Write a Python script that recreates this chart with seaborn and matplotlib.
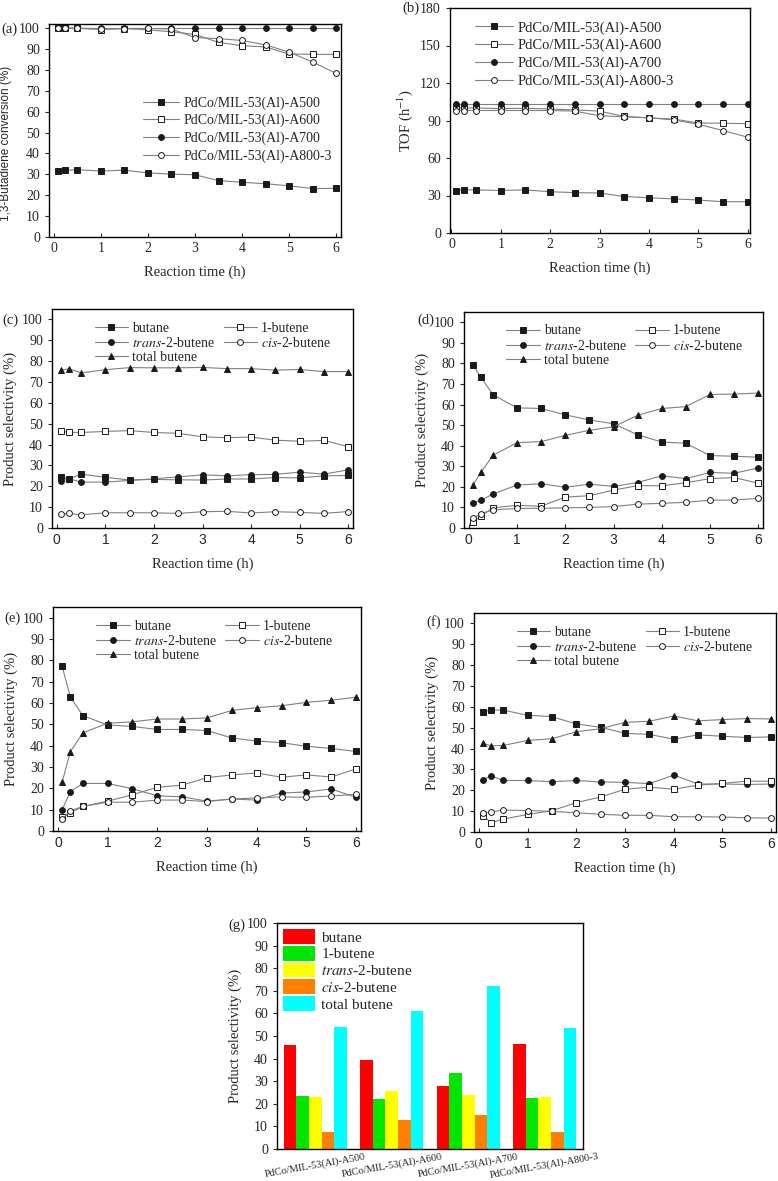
import matplotlib.pyplot as plt
import numpy as np
import pandas as pd
import seaborn as sns

# reaction time points (h)
hours = [0.083, 0.25, 0.5, 1, 1.5, 2, 2.5, 3, 3.5, 4, 4.5, 5, 5.5, 6]

catalysts = ['PdCo/MIL-53(Al)-A500', 'PdCo/MIL-53(Al)-A600',
             'PdCo/MIL-53(Al)-A700', 'PdCo/MIL-53(Al)-A800-3']

# (a) 1,3-butadiene conversion (%)
conv_a500 = [31.8, 32.0, 32.2, 31.6, 32.0, 30.7, 30.1, 29.8, 27.0, 26.2, 25.5, 24.5, 23.2, 23.3]
conv_a600 = [100, 100, 100, 99.3, 99.8, 99.2, 98.3, 97.0, 93.2, 91.6, 91.0, 87.6, 87.5, 87.4]
conv_a700 = [100, 100, 100, 100, 100, 100, 100, 100, 100, 100, 100, 100, 100, 100]
conv_a800 = [100, 100, 100, 99.8, 99.8, 99.9, 99.6, 95.5, 95.0, 94.1, 92.0, 88.5, 83.8, 78.3]

# (b) TOF (h-1)
tof_a500 = [34.0, 34.5, 34.5, 34.0, 34.5, 33.0, 32.3, 32.0, 29.2, 28.2, 27.3, 26.4, 25.0, 25.0]
tof_a600 = [100, 100, 100, 99.5, 99.8, 99.2, 98.5, 97.5, 93.3, 92.0, 91.2, 88.0, 87.8, 87.5]
tof_a700 = [103.5] * 14
tof_a800 = [98, 98, 98, 98, 98, 98, 97.5, 93.8, 93.0, 92.2, 90.5, 87.0, 82.0, 76.7]

# (c)-(f) product selectivity (%): butane, 1-butene, trans, cis, total butene
sel_c = {
    'butane':  [24.5, 23.5, 25.8, 24.3, 23.0, 23.3, 23.1, 23.0, 23.5, 23.5, 24.2, 24.0, 25.0, 25.2],
    '1-butene': [46.3, 45.9, 45.8, 46.3, 46.7, 45.8, 45.4, 43.7, 43.3, 43.6, 42.1, 41.6, 42.0, 39.0],
    'trans':   [22.3, 23.6, 22.0, 22.0, 22.8, 23.6, 24.5, 25.5, 25.0, 25.6, 25.7, 26.8, 25.8, 27.9],
    'cis':     [6.5, 7.0, 6.3, 7.3, 7.3, 7.3, 7.0, 7.8, 8.0, 7.2, 7.8, 7.5, 7.0, 7.9],
    'total':   [75.7, 76.3, 74.4, 75.9, 76.9, 76.8, 76.8, 77.0, 76.4, 76.4, 75.7, 76.0, 75.0, 75.0],
}
sel_d = {
    'butane':  [79.3, 73.3, 64.8, 58.4, 58.1, 55.0, 52.5, 50.7, 45.3, 41.8, 41.2, 35.2, 34.9, 34.4],
    '1-butene': [3.0, 5.8, 9.8, 11.0, 10.6, 15.0, 15.7, 18.4, 20.6, 20.5, 22.0, 24.0, 24.5, 21.8],
    'trans':   [12.3, 13.5, 16.5, 20.9, 21.5, 19.8, 21.3, 20.2, 22.1, 25.4, 24.0, 27.0, 26.6, 29.2],
    'cis':     [4.7, 7.0, 8.8, 9.5, 9.6, 9.8, 10.0, 10.4, 11.6, 12.0, 12.5, 13.5, 13.6, 14.4],
    'total':   [20.8, 27.0, 35.3, 41.5, 42.0, 45.0, 47.5, 49.2, 54.8, 58.1, 59.0, 64.9, 65.1, 65.6],
}
sel_e = {
    'butane':  [77.2, 62.8, 54.1, 49.7, 49.0, 47.6, 47.6, 47.1, 43.6, 42.2, 41.4, 39.7, 38.7, 37.3],
    '1-butene': [6.5, 8.5, 11.5, 14.0, 17.0, 20.5, 21.5, 25.0, 26.3, 27.2, 25.2, 26.3, 25.3, 29.1],
    'trans':   [10.0, 18.5, 22.3, 22.3, 19.8, 16.5, 16.0, 14.0, 15.0, 14.5, 17.8, 18.3, 19.7, 15.8],
    'cis':     [5.5, 9.5, 11.5, 13.5, 13.5, 14.5, 14.5, 13.8, 15.0, 15.5, 16.0, 15.8, 16.4, 17.2],
    'total':   [22.8, 37.2, 46.0, 50.5, 51.2, 52.5, 52.5, 53.0, 56.5, 57.8, 58.7, 60.3, 61.3, 62.7],
}
sel_f = {
    'butane':  [57.5, 58.6, 58.4, 56.0, 55.3, 51.8, 50.2, 47.3, 46.8, 44.5, 46.6, 45.9, 45.3, 45.6],
    '1-butene': [7.9, 4.4, 6.2, 8.4, 10.2, 14.1, 16.8, 20.5, 21.5, 20.5, 22.5, 23.3, 24.4, 24.3],
    'trans':   [25.1, 26.9, 24.7, 24.7, 24.1, 24.7, 24.0, 23.8, 23.2, 27.3, 23.0, 23.0, 22.8, 23.0],
    'cis':     [9.2, 9.7, 10.5, 10.3, 9.9, 9.2, 8.5, 8.0, 8.0, 7.3, 7.3, 7.2, 6.8, 6.7],
    'total':   [42.5, 41.3, 41.5, 43.9, 44.7, 48.1, 49.5, 52.6, 53.1, 55.6, 53.3, 53.9, 54.4, 54.2],
}

# (g) average selectivity per catalyst
bar_butane = [46.2, 39.4, 27.9, 46.6]
bar_1butene = [23.5, 22.3, 33.8, 22.6]
bar_trans = [23.1, 25.8, 23.7, 23.2]
bar_cis = [7.5, 12.8, 15.1, 7.4]
bar_total = [54.0, 60.9, 72.2, 53.5]

product_labels = {
    'butane': 'butane',
    '1-butene': '1-butene',
    'trans': r'$\it{trans}$-2-butene',
    'cis': r'$\it{cis}$-2-butene',
    'total': 'total butene',
}
product_markers = {'butane': ('s', True), '1-butene': ('s', False),
                   'trans': ('o', True), 'cis': ('o', False), 'total': ('^', True)}

sns.set_theme(style='ticks')
plt.rcParams['font.family'] = ['Liberation Serif', 'DejaVu Serif']
plt.rcParams['mathtext.fontset'] = 'stix'
plt.rcParams['xtick.direction'] = 'in'
plt.rcParams['ytick.direction'] = 'out'
plt.rcParams['axes.linewidth'] = 1.0
plt.rcParams['axes.edgecolor'] = 'black'

W, H = 778, 1181
fig = plt.figure(figsize=(W / 100, H / 100), dpi=100)


def box(x0, y0, x1, y1):
    return [x0 / W, 1 - y1 / H, (x1 - x0) / W, (y1 - y0) / H]


def series(ax, y, marker, filled, label):
    sns.lineplot(x=hours, y=y, ax=ax, color='0.5', lw=0.8, marker=marker,
                 markersize=4.2, markerfacecolor='k' if filled else 'w',
                 markeredgecolor='k', markeredgewidth=0.7, label=label)


def style_time_axis(ax, sans_x):
    ax.set_xlim(-0.1, 6.1)
    ax.set_xticks(range(7))
    ax.set_xlabel('Reaction time (h)', fontsize=10.5, labelpad=8)
    ax.tick_params(axis='both', labelsize=10, length=3, width=0.8)
    if sans_x:
        for t in ax.get_xticklabels():
            t.set_fontfamily('Liberation Sans')
    for s in ax.spines.values():
        s.set_visible(True)


# (a)
ax = fig.add_axes(box(49, 24, 341, 237))
for y, m, f, lab in zip([conv_a500, conv_a600, conv_a700, conv_a800],
                        ['s', 's', 'o', 'o'], [True, False, True, False], catalysts):
    series(ax, y, m, f, lab)
style_time_axis(ax, False)
ax.set_ylim(0, 102)
ax.set_yticks(range(0, 101, 10))
ax.set_ylabel('1,3-Butadiene conversion (%)', fontsize=8.5, family='Liberation Sans')
ax.yaxis.set_label_coords(-0.125, 0.44)
ax.legend(loc='upper left', bbox_to_anchor=(0.28, 0.72), frameon=False, fontsize=10,
          handlelength=2.6, labelspacing=0.3, handletextpad=0.3)
fig.text(1 / W, 1 - 29 / H, '(a)', fontsize=10.5, va='center')

# (b)
ax = fig.add_axes(box(450, 8, 750, 233))
for y, m, f, lab in zip([tof_a500, tof_a600, tof_a700, tof_a800],
                        ['s', 's', 'o', 'o'], [True, False, True, False], catalysts):
    series(ax, y, m, f, lab)
style_time_axis(ax, False)
ax.set_xlim(-0.03, 6.05)
ax.set_ylim(0, 180)
ax.set_yticks(range(0, 181, 30))
ax.set_ylabel('TOF (h$^{-1}$)', fontsize=10.5)
ax.legend(loc='upper left', bbox_to_anchor=(0.04, 1.0), frameon=False, fontsize=10.5,
          handlelength=2.6, labelspacing=0.3, handletextpad=0.3)
fig.text(402 / W, 1 - 8 / H, '(b)', fontsize=10.5, va='center')

# (c)-(f)
panels = [
    ('(c)', sel_c, (52, 309, 353, 528), (2, 320)),
    ('(d)', sel_d, (464, 312, 763, 528), (417, 320)),
    ('(e)', sel_e, (53, 607, 361, 831), (4, 618)),
    ('(f)', sel_f, (474, 613, 776, 832), (426, 622)),
]
for tag, sel, rect, tag_pos in panels:
    ax = fig.add_axes(box(*rect))
    for key in ['butane', 'trans', 'total', '1-butene', 'cis']:
        m, f = product_markers[key]
        series(ax, sel[key], m, f, product_labels[key])
    style_time_axis(ax, True)
    ax.set_ylim(0, 105)
    ax.set_yticks(range(0, 101, 10))
    ax.set_ylabel('Product selectivity (%)', fontsize=10.5)
    ax.legend(loc='upper left', bbox_to_anchor=(0.1, 1.0), ncol=2, frameon=False,
              fontsize=10, handlelength=2.4, labelspacing=0.1, handletextpad=0.3,
              columnspacing=0.6)
    fig.text(tag_pos[0] / W, 1 - tag_pos[1] / H, tag, fontsize=10.5, va='center')

# (g)
bar_df = pd.DataFrame({
    'catalyst': catalysts * 5,
    'product': (['butane'] * 4 + ['1-butene'] * 4 + [product_labels['trans']] * 4
                + [product_labels['cis']] * 4 + ['total butene'] * 4),
    'value': bar_butane + bar_1butene + bar_trans + bar_cis + bar_total,
})
ax = fig.add_axes(box(277, 923, 583, 1149))
sns.barplot(data=bar_df, x='catalyst', y='value', hue='product',
            palette=['#ff0000', '#00e600', '#ffff00', '#ff8000', '#00ffff'],
            saturation=1, width=0.82, linewidth=0, ax=ax)
ax.set_ylim(0, 100)
ax.set_yticks(range(0, 101, 10))
ax.set_xlim(-0.5, 3.5)
ax.set_xlabel('')
ax.set_ylabel('Product selectivity (%)', fontsize=10.5)
ax.tick_params(axis='y', labelsize=10, length=3, width=0.8)
ax.tick_params(axis='x', labelsize=7.5, length=0, pad=2)
for t in ax.get_xticklabels():
    t.set_rotation(10)
for s in ax.spines.values():
    s.set_visible(True)
ax.legend(loc='upper left', bbox_to_anchor=(0.0, 1.0), frameon=False, fontsize=11,
          handlelength=2.1, handleheight=1.1, labelspacing=0.08, handletextpad=0.4,
          borderaxespad=0.2, borderpad=0.2)
fig.text(228 / W, 1 - 925 / H, '(g)', fontsize=10.5, va='center')

fig.savefig('out.png', dpi=100)
